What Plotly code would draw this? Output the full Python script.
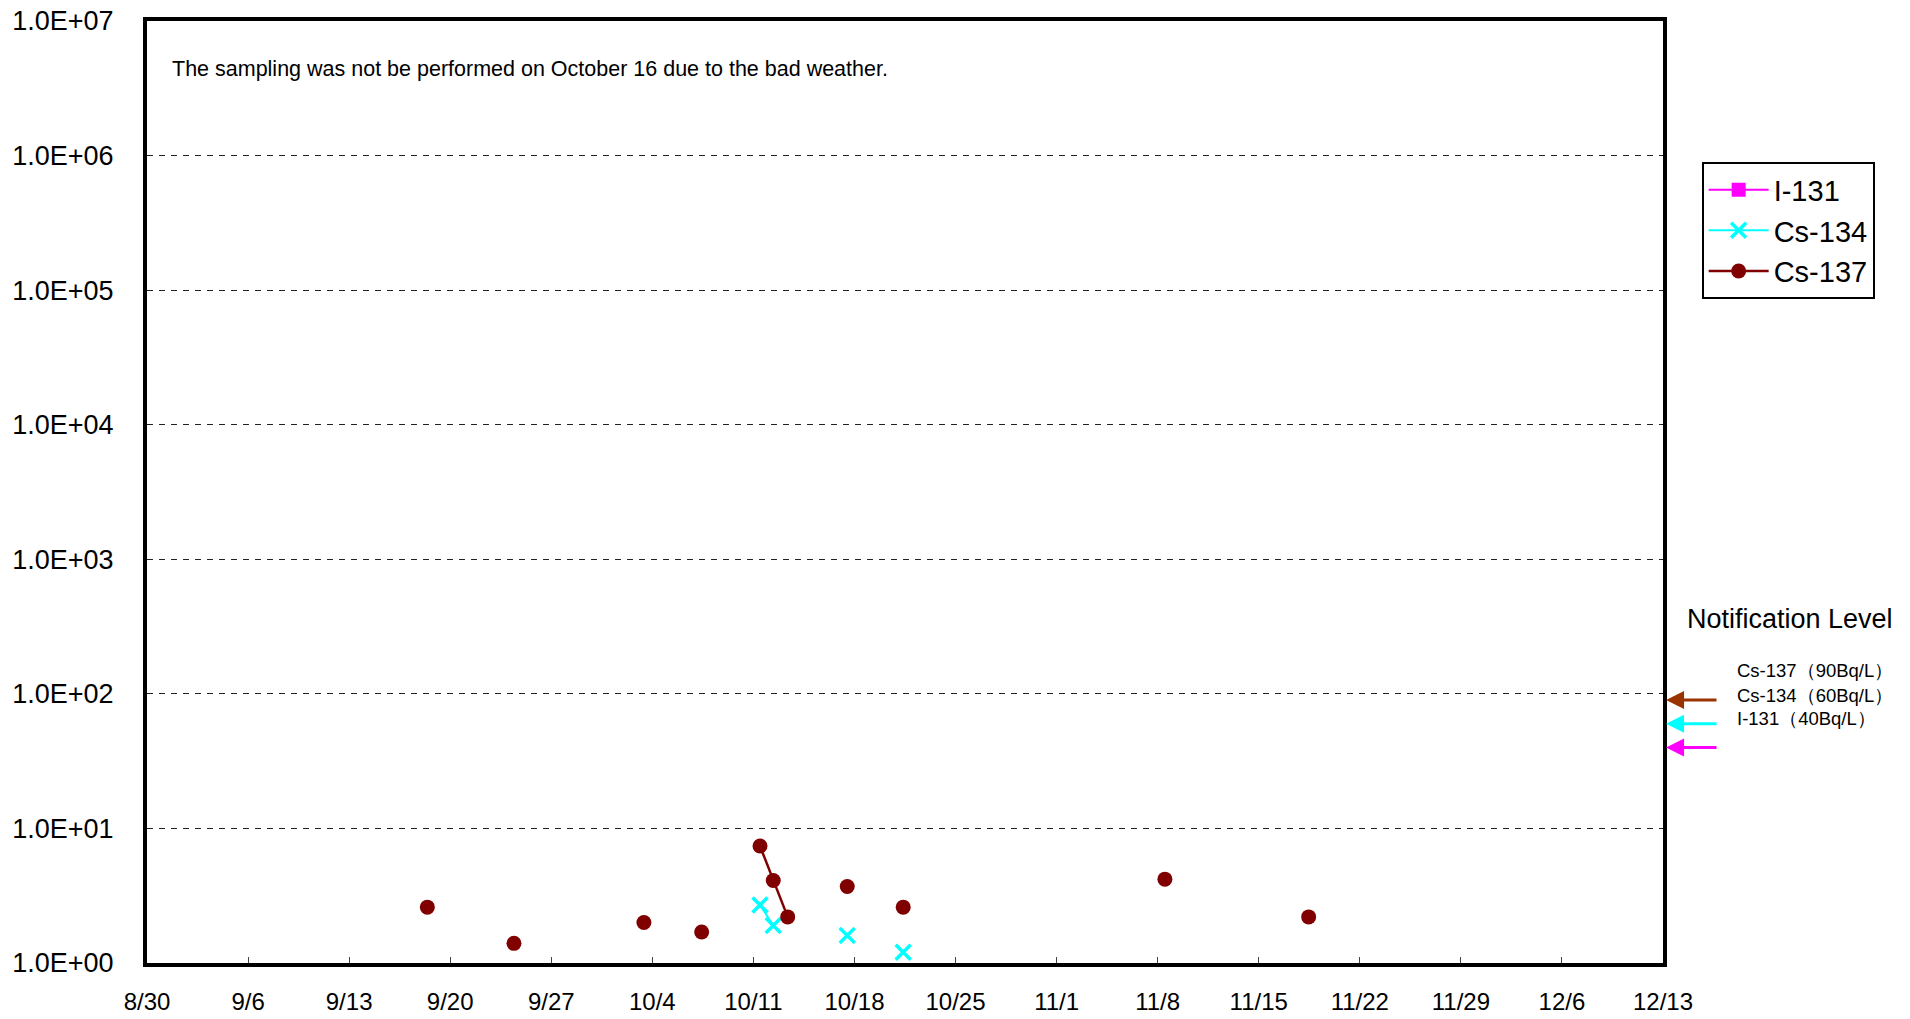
import math
import datetime as dt
import plotly.graph_objects as go

# ---------------- data ----------------
sample_dates = ['2013-09-18 10:00', '2013-09-24 10:00', '2013-10-03 10:00', '2013-10-07 10:00',
                '2013-10-11 11:00', '2013-10-12 09:00', '2013-10-13 09:00', '2013-10-17 12:00',
                '2013-10-21 09:00', '2013-11-08 12:00', '2013-11-18 11:00']
cs137 = [2.6, 1.4, 2.0, 1.7, 7.4, 4.1, 2.2, 3.7, 2.6, 4.2, 2.2]
cs134 = [None, None, None, None, 2.7, 1.9, None, 1.6, 1.2, None, None]
i131 = [None] * len(sample_dates)

tick_dates = ['2013-08-30', '2013-09-06', '2013-09-13', '2013-09-20', '2013-09-27', '2013-10-04',
              '2013-10-11', '2013-10-18', '2013-10-25', '2013-11-01', '2013-11-08', '2013-11-15',
              '2013-11-22', '2013-11-29', '2013-12-06', '2013-12-13']
tick_labels = ['8/30', '9/6', '9/13', '9/20', '9/27', '10/4', '10/11', '10/18', '10/25', '11/1',
               '11/8', '11/15', '11/22', '11/29', '12/6', '12/13']
y_tickvals = [1, 10, 100, 1e3, 1e4, 1e5, 1e6, 1e7]
y_ticklabels = ['1.0E+00', '1.0E+01', '1.0E+02', '1.0E+03', '1.0E+04', '1.0E+05', '1.0E+06', '1.0E+07']

levels_names = ['Cs-137（90Bq/L）', 'Cs-134（60Bq/L）', 'I-131（40Bq/L）']
levels_values = [90, 60, 40]
levels_colors = ['#993300', '#00FFFF', '#FF00FF']

note_text = 'The sampling was not be performed on October 16 due to the bad weather.'


# ---------------- build gapped series (lines only between consecutive days) ----------------
def gapped(dates, vals):
    xs, ys = [], []
    prev = None
    for d, v in zip(dates, vals):
        day = dt.datetime.strptime(d, '%Y-%m-%d %H:%M').date()
        if prev is not None and (day - prev).days > 1:
            xs.append(None)
            ys.append(None)
        xs.append(d)
        ys.append(v)
        prev = day
    return xs, ys


FONT = 'Liberation Sans, Arial, sans-serif'
fig = go.Figure()

x1, y1 = gapped(sample_dates, i131)
fig.add_trace(go.Scatter(x=x1, y=y1, name='I-131', mode='lines+markers', legendgroup='a',
                         line=dict(color='#FF00FF', width=2),
                         marker=dict(symbol='square', size=14, color='#FF00FF'),
                         connectgaps=False))
x2, y2 = gapped(sample_dates, cs134)
fig.add_trace(go.Scatter(x=x2, y=y2, name='Cs-134', mode='lines+markers', legendgroup='b',
                         line=dict(color='#00FFFF', width=2),
                         marker=dict(symbol='x-thin', size=15, color='#00FFFF',
                                     line=dict(color='#00FFFF', width=3.5)),
                         connectgaps=False, cliponaxis=False))
x3, y3 = gapped(sample_dates, cs137)
fig.add_trace(go.Scatter(x=x3, y=y3, name='Cs-137', mode='lines+markers', legendgroup='c',
                         line=dict(color='#800000', width=2.5),
                         marker=dict(symbol='circle', size=15, color='#800000'),
                         connectgaps=False, cliponaxis=False))

annotations = [
    dict(text=note_text, xref='paper', yref='paper', x=0.0152, y=0.949,
         xanchor='left', yanchor='middle', showarrow=False,
         font=dict(family=FONT, size=21.5, color='black')),
    dict(text='Notification Level', xref='paper', yref='paper', x=1.0145, y=0.3652,
         xanchor='left', yanchor='middle', showarrow=False,
         font=dict(family=FONT, size=27, color='black')),
]
label_y = [0.311, 0.2845, 0.260]
for name, yy in zip(levels_names, label_y):
    annotations.append(dict(text=name, xref='paper', yref='paper', x=1.0475, y=yy,
                            xanchor='left', yanchor='middle', showarrow=False,
                            font=dict(family=FONT, size=18.5, color='black')))
for val, col in zip(levels_values, levels_colors):
    annotations.append(dict(text='', xref='paper', yref='y', x=1.002, y=math.log10(val),
                            showarrow=True, ax=52, ay=0, arrowhead=2, arrowsize=1.2,
                            arrowwidth=3, arrowcolor=col))

fig.update_layout(
    width=1902, height=1011,
    margin=dict(l=139, r=247, t=13, b=56, autoexpand=False),
    paper_bgcolor='white', plot_bgcolor='white',
    font=dict(family=FONT, color='black'),
    showlegend=True,
    legend=dict(x=1.0255, y=0.85, xanchor='left', yanchor='top',
                bordercolor='black', borderwidth=2, bgcolor='white',
                font=dict(family=FONT, size=29, color='black'),
                itemwidth=60, tracegroupgap=0),
    annotations=annotations,
)
fig.update_xaxes(type='date', range=['2013-08-30', '2013-12-13'],
                 tickvals=tick_dates, ticktext=tick_labels,
                 ticks='inside', ticklen=6, tickwidth=1, tickcolor='#444',
                 showgrid=False, zeroline=False, automargin=True,
                 ticklabeloverflow='allow',
                 showline=True, linewidth=4, linecolor='black', mirror=True,
                 tickfont=dict(family=FONT, size=24, color='black'),
                 ticklabelstandoff=14)
fig.update_yaxes(type='log', range=[0, 7], tickvals=y_tickvals, ticktext=y_ticklabels,
                 ticks='', showgrid=True, gridcolor='#222', gridwidth=1, griddash='6px,6px',
                 zeroline=False, automargin=True,
                 ticklabeloverflow='allow',
                 showline=True, linewidth=4, linecolor='black', mirror=True,
                 tickfont=dict(family=FONT, size=27, color='black'),
                 ticklabelstandoff=24)

fig.write_html('out.html')
